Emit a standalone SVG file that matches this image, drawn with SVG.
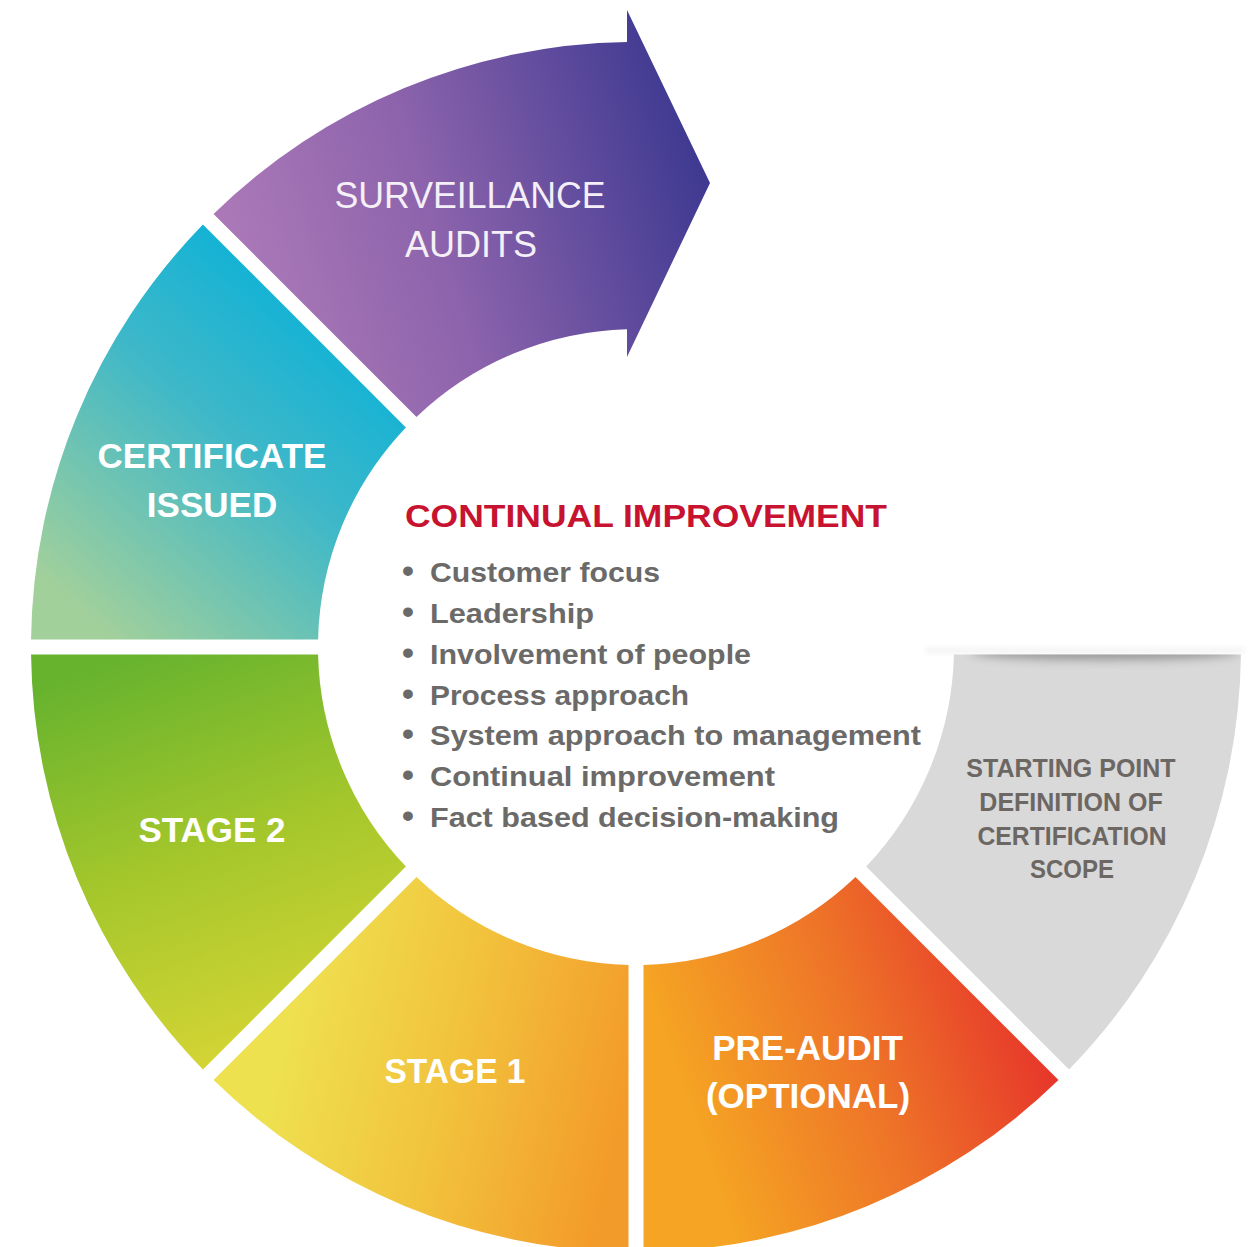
<svg xmlns="http://www.w3.org/2000/svg" width="1250" height="1247" viewBox="0 0 1250 1247">
  <style>
    .lbl { font-family: "Liberation Sans", Arial, sans-serif; font-weight: bold; font-size: 35px; fill: #ffffff; text-anchor: middle; }
    .surv { font-family: "Liberation Sans", Arial, sans-serif; font-weight: normal; font-size: 36px; fill: #f5eff7; text-anchor: middle; }
    .gray { font-family: "Liberation Sans", Arial, sans-serif; font-weight: bold; font-size: 25px; fill: #6c6762; text-anchor: middle; }
    .title { font-family: "Liberation Sans", Arial, sans-serif; font-weight: bold; font-size: 32px; fill: #c7132f; }
    .item { font-family: "Liberation Sans", Arial, sans-serif; font-weight: bold; font-size: 28px; fill: #6b6a69; }
    .dot { font-size: 34px; }
  </style>
  <defs>
    <linearGradient id="gSurv" gradientUnits="userSpaceOnUse" x1="215" y1="300" x2="710" y2="150">
      <stop offset="0" stop-color="#b07cb9"/>
      <stop offset="0.45" stop-color="#8c63ac"/>
      <stop offset="1" stop-color="#3b3890"/>
    </linearGradient>
    <linearGradient id="gCert" gradientUnits="userSpaceOnUse" x1="340" y1="330" x2="90" y2="620">
      <stop offset="0" stop-color="#12b2d6"/>
      <stop offset="0.4" stop-color="#3fb8c8"/>
      <stop offset="1" stop-color="#a2d09b"/>
    </linearGradient>
    <linearGradient id="gStage2" gradientUnits="userSpaceOnUse" x1="120" y1="660" x2="260" y2="1060">
      <stop offset="0" stop-color="#67b32e"/>
      <stop offset="0.5" stop-color="#a5c72b"/>
      <stop offset="1" stop-color="#d6d535"/>
    </linearGradient>
    <linearGradient id="gStage1" gradientUnits="userSpaceOnUse" x1="290" y1="1000" x2="630" y2="1080">
      <stop offset="0" stop-color="#eee150"/>
      <stop offset="0.5" stop-color="#f2c23c"/>
      <stop offset="1" stop-color="#f39b2a"/>
    </linearGradient>
    <linearGradient id="gPre" gradientUnits="userSpaceOnUse" x1="690" y1="1120" x2="1040" y2="1000">
      <stop offset="0" stop-color="#f5a523"/>
      <stop offset="0.5" stop-color="#ee7428"/>
      <stop offset="1" stop-color="#e6332b"/>
    </linearGradient>
    <clipPath id="grayClip">
      <path d="M 1240.95 654.5 A 605 605 0 0 1 1069.07 1069.47 L 866.10 866.50 A 318 318 0 0 0 953.91 654.5 Z"/>
    </clipPath>
    <filter id="blurA" x="-20%" y="-200%" width="140%" height="500%">
      <feGaussianBlur stdDeviation="5"/>
    </filter>
    <filter id="blurB" x="-20%" y="-300%" width="140%" height="700%">
      <feGaussianBlur stdDeviation="2.5"/>
    </filter>
  </defs>

  <rect x="0" y="0" width="1250" height="1247" fill="#ffffff"/>

  <g id="node-surveillance">
    <path d="M 213.53 213.93 A 605 605 0 0 1 627 42.07 L 627 10 L 710 183 L 627 357 L 627 329.13 A 318 318 0 0 0 416.50 416.90 Z" fill="url(#gSurv)"/>
    <text class="surv" x="470" y="208" textLength="271" lengthAdjust="spacingAndGlyphs">SURVEILLANCE</text>
    <text class="surv" x="471" y="257">AUDITS</text>
  </g>

  <g id="node-certificate">
    <path d="M 31.05 639.5 A 605 605 0 0 1 202.93 224.53 L 405.90 427.50 A 318 318 0 0 0 318.09 639.5 Z" fill="url(#gCert)"/>
    <text class="lbl" x="212" y="468">CERTIFICATE</text>
    <text class="lbl" x="212" y="517">ISSUED</text>
  </g>

  <g id="node-stage2">
    <path d="M 202.93 1069.47 A 605 605 0 0 1 31.05 654.5 L 318.09 654.5 A 318 318 0 0 0 405.90 866.50 Z" fill="url(#gStage2)"/>
    <text class="lbl" x="212" y="842">STAGE 2</text>
  </g>

  <g id="node-stage1">
    <path d="M 628.5 1251.95 A 605 605 0 0 1 213.53 1080.07 L 416.50 877.10 A 318 318 0 0 0 628.5 964.91 Z" fill="url(#gStage1)"/>
    <text class="lbl" x="455" y="1083" textLength="141" lengthAdjust="spacingAndGlyphs">STAGE 1</text>
  </g>

  <g id="node-preaudit">
    <path d="M 1058.47 1080.07 A 605 605 0 0 1 643.5 1251.95 L 643.5 964.91 A 318 318 0 0 0 855.50 877.10 Z" fill="url(#gPre)"/>
    <text class="lbl" x="807.5" y="1060">PRE-AUDIT</text>
    <text class="lbl" x="808" y="1108">(OPTIONAL)</text>
  </g>

  <g id="node-starting-point">
    <rect x="925" y="647" width="320" height="7" fill="#000000" opacity="0.035" filter="url(#blurB)"/>
    <path d="M 1240.95 654.5 A 605 605 0 0 1 1069.07 1069.47 L 866.10 866.50 A 318 318 0 0 0 953.91 654.5 Z" fill="#d9d9d9"/>
    <g clip-path="url(#grayClip)">
      <ellipse cx="1105" cy="652" rx="135" ry="8" fill="#707070" opacity="0.6" filter="url(#blurA)"/>
    </g>
    <text class="gray" x="1071" y="777">STARTING POINT</text>
    <text class="gray" x="1071" y="811">DEFINITION OF</text>
    <text class="gray" x="1072" y="845" textLength="189" lengthAdjust="spacingAndGlyphs">CERTIFICATION</text>
    <text class="gray" x="1072" y="878" textLength="84" lengthAdjust="spacingAndGlyphs">SCOPE</text>
  </g>

  <g id="node-center">
    <text class="title" x="405" y="527" textLength="482" lengthAdjust="spacingAndGlyphs">CONTINUAL IMPROVEMENT</text>
    <text class="item" y="582"><tspan class="dot" x="402">•</tspan><tspan x="430" textLength="230" lengthAdjust="spacingAndGlyphs">Customer focus</tspan></text>
    <text class="item" y="623"><tspan class="dot" x="402">•</tspan><tspan x="430" textLength="164" lengthAdjust="spacingAndGlyphs">Leadership</tspan></text>
    <text class="item" y="664"><tspan class="dot" x="402">•</tspan><tspan x="430" textLength="321" lengthAdjust="spacingAndGlyphs">Involvement of people</tspan></text>
    <text class="item" y="705"><tspan class="dot" x="402">•</tspan><tspan x="430" textLength="259" lengthAdjust="spacingAndGlyphs">Process approach</tspan></text>
    <text class="item" y="745"><tspan class="dot" x="402">•</tspan><tspan x="430" textLength="491" lengthAdjust="spacingAndGlyphs">System approach to management</tspan></text>
    <text class="item" y="786"><tspan class="dot" x="402">•</tspan><tspan x="430" textLength="345" lengthAdjust="spacingAndGlyphs">Continual improvement</tspan></text>
    <text class="item" y="827"><tspan class="dot" x="402">•</tspan><tspan x="430" textLength="409" lengthAdjust="spacingAndGlyphs">Fact based decision-making</tspan></text>
  </g>

  <g id="connectors"></g>
</svg>
